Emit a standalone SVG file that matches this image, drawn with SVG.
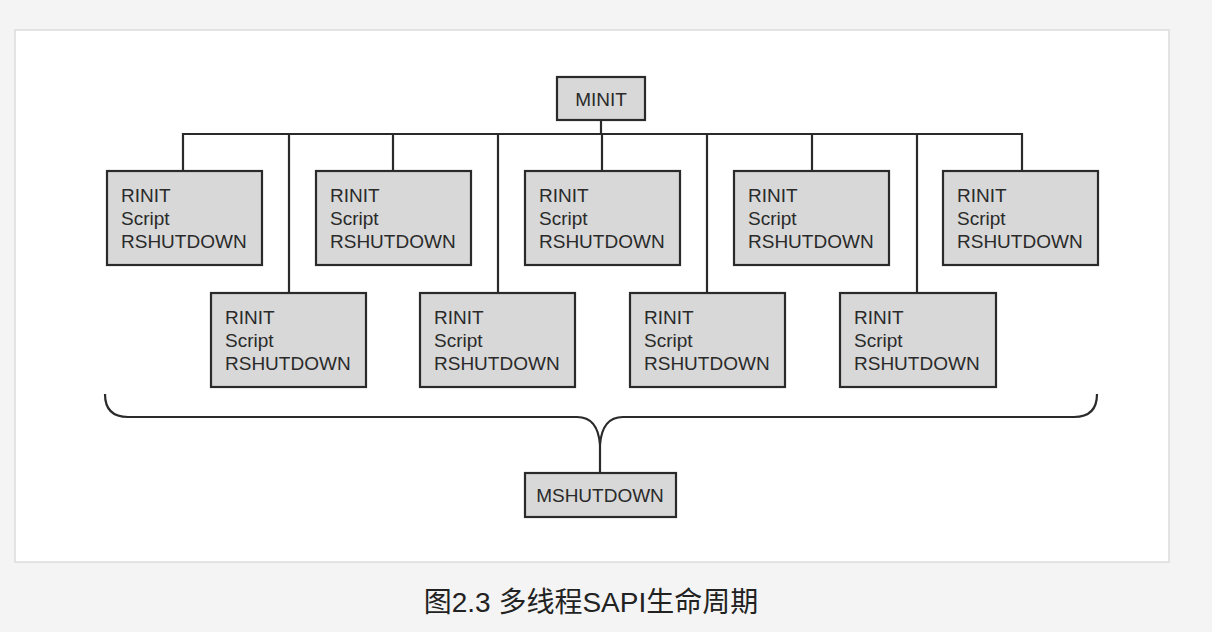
<svg xmlns="http://www.w3.org/2000/svg" width="1212" height="632" viewBox="0 0 1212 632">
<style>
.box{fill:#d8d8d8;stroke:#2a2a2a;stroke-width:2.2}
.t{font-family:"Liberation Sans",Arial,sans-serif;font-size:19px;fill:#2a2a2a}
.c{text-anchor:middle}
.ln{fill:none;stroke:#2a2a2a;stroke-width:2.2}
</style>
<rect x="0" y="0" width="1212" height="632" fill="#f4f4f4"/>
<rect x="15" y="30" width="1154" height="532" fill="#ffffff" stroke="#dcdcdc" stroke-width="1.5"/>
<g id="connectors">
<path class="ln" d="M601,120 V134 M183,171 V134 H1022 V171 M393,134 V171 M602,134 V171 M812,134 V171 M289,134 V293 M498,134 V293 M707,134 V293 M917,134 V293"/>
<path class="ln" d="M105,394 Q105,417 128,417 L577,417 Q598,417 600,445 Q602,417 623,417 L1074,417 Q1097,417 1097,394 M600,445 V473"/>
</g>
<g id="minit"><rect class="box" x="557" y="77" width="88" height="43"/><text class="t c" x="601" y="106">MINIT</text></g>
<g id="r1"><rect class="box" x="107" y="171" width="155" height="94"/><text class="t" x="121" y="202">RINIT</text><text class="t" x="121" y="225">Script</text><text class="t" x="121" y="248">RSHUTDOWN</text></g>
<g id="r2"><rect class="box" x="316" y="171" width="155" height="94"/><text class="t" x="330" y="202">RINIT</text><text class="t" x="330" y="225">Script</text><text class="t" x="330" y="248">RSHUTDOWN</text></g>
<g id="r3"><rect class="box" x="525" y="171" width="155" height="94"/><text class="t" x="539" y="202">RINIT</text><text class="t" x="539" y="225">Script</text><text class="t" x="539" y="248">RSHUTDOWN</text></g>
<g id="r4"><rect class="box" x="734" y="171" width="155" height="94"/><text class="t" x="748" y="202">RINIT</text><text class="t" x="748" y="225">Script</text><text class="t" x="748" y="248">RSHUTDOWN</text></g>
<g id="r5"><rect class="box" x="943" y="171" width="155" height="94"/><text class="t" x="957" y="202">RINIT</text><text class="t" x="957" y="225">Script</text><text class="t" x="957" y="248">RSHUTDOWN</text></g>
<g id="r6"><rect class="box" x="211" y="293" width="155" height="94"/><text class="t" x="225" y="324">RINIT</text><text class="t" x="225" y="347">Script</text><text class="t" x="225" y="370">RSHUTDOWN</text></g>
<g id="r7"><rect class="box" x="420" y="293" width="155" height="94"/><text class="t" x="434" y="324">RINIT</text><text class="t" x="434" y="347">Script</text><text class="t" x="434" y="370">RSHUTDOWN</text></g>
<g id="r8"><rect class="box" x="630" y="293" width="155" height="94"/><text class="t" x="644" y="324">RINIT</text><text class="t" x="644" y="347">Script</text><text class="t" x="644" y="370">RSHUTDOWN</text></g>
<g id="r9"><rect class="box" x="840" y="293" width="156" height="94"/><text class="t" x="854" y="324">RINIT</text><text class="t" x="854" y="347">Script</text><text class="t" x="854" y="370">RSHUTDOWN</text></g>
<g id="mshutdown"><rect class="box" x="525" y="473" width="151" height="44"/><text class="t c" x="600" y="502">MSHUTDOWN</text></g>
<text x="591" y="612" text-anchor="middle" font-family="'Liberation Sans','Noto Sans CJK SC',sans-serif" font-size="28" fill="#222">图2.3 多线程SAPI生命周期</text>
</svg>
